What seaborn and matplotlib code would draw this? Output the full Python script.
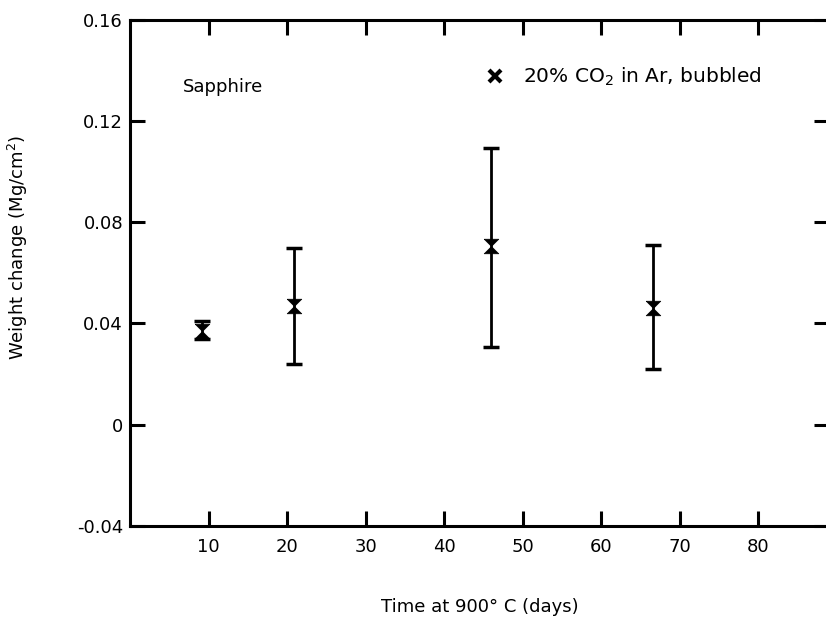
import numpy as np
import pandas as pd
import matplotlib
matplotlib.use("Agg")
import matplotlib.pyplot as plt
from matplotlib.lines import Line2D
from matplotlib.path import Path
import seaborn as sns

# data
days = [9.2, 20.9, 46.0, 66.6]
weight = [0.037, 0.047, 0.0705, 0.046]
err_low = [0.003, 0.023, 0.040, 0.024]
err_high = [0.004, 0.023, 0.039, 0.025]

x_ticks = [10, 20, 30, 40, 50, 60, 70, 80]
y_ticks = [-0.04, 0, 0.04, 0.08, 0.12, 0.16]
y_labels = ["-0.04", "0", "0.04", "0.08", "0.12", "0.16"]

df = pd.DataFrame({"days": days, "weight": weight})

sns.set_style("ticks")
plt.rcParams["font.family"] = ["DejaVu Sans"]
plt.rcParams["font.size"] = 13
plt.rcParams["text.color"] = "black"
plt.rcParams["axes.labelcolor"] = "black"

fig = plt.figure(figsize=(8.26, 6.19), dpi=100)
ax = fig.add_axes([0.1574, 0.1507, 0.8462, 0.817])

# error bars first, markers on top
ax.errorbar(days, weight, yerr=[err_low, err_high], fmt="none",
            ecolor="black", elinewidth=2, capsize=6, capthick=2.5)

# hourglass shaped marker like the printed symbol
hourglass = Path([(-1, 1), (1, 1), (-1, -1), (1, -1), (-1, 1)])
sns.scatterplot(data=df, x="days", y="weight", marker=hourglass, s=110,
                color="black", edgecolor="black", linewidth=0.5, ax=ax,
                zorder=5, legend=False)

ax.set_xlim(0, 89)
ax.set_ylim(-0.04, 0.16)
ax.set_xticks(x_ticks)
ax.set_yticks(y_ticks)
ax.set_yticklabels(y_labels)

for side in ["left", "bottom", "top", "right"]:
    ax.spines[side].set_visible(True)
    ax.spines[side].set_linewidth(2.2)
    ax.spines[side].set_color("black")

ax.tick_params(axis="both", direction="in", length=11, width=2.2,
               colors="black", labelsize=13, top=True, right=True)
ax.tick_params(axis="x", pad=9)
ax.tick_params(axis="y", pad=5)

ax.set_xlabel("Time at 900° C (days)", fontsize=13)
ax.set_ylabel("Weight change (Mg/cm$^2$)", fontsize=13)
ax.xaxis.set_label_coords(0.5, -0.143)
ax.yaxis.set_label_coords(-0.143, 0.55)

ax.text(0.076, 0.8675, "Sapphire", transform=ax.transAxes,
        va="center", ha="left", fontsize=13)

handle = Line2D([], [], marker="x", ls="none", color="black",
                markersize=8, markeredgewidth=3)
ax.legend(handles=[handle], labels=["20% CO$_2$ in Ar, bubbled"],
          loc="center left", bbox_to_anchor=(0.493, 0.887), frameon=False,
          borderpad=0, handlelength=1.0, handletextpad=0.9, fontsize=14.5)

fig.savefig("out.png", dpi=100)
